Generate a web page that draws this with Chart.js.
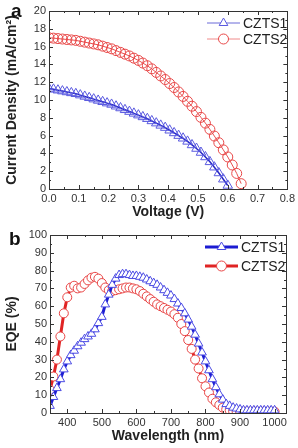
<!DOCTYPE html>
<html>
<head>
<meta charset="utf-8">
<script src="https://cdn.jsdelivr.net/npm/chart.js@4.4.1/dist/chart.umd.min.js"></script>
<style>
  html, body { margin: 0; padding: 0; background: #fff; }
  #wrap { position: relative; width: 298px; height: 448px; }
  canvas { position: absolute; left: 0; }
</style>
</head>
<body>
<div id="wrap">
  <canvas id="jv_chart" width="298" height="224" style="top:0"></canvas>
  <canvas id="eqe_chart" width="298" height="224" style="top:224px"></canvas>
</div>
<script>
// ---- panel a: J-V ----
var voltage = [0, 0.015, 0.03, 0.045, 0.06, 0.075, 0.09, 0.105, 0.12, 0.135, 0.15, 0.165, 0.18, 0.195,
  0.21, 0.225, 0.24, 0.255, 0.27, 0.285, 0.3, 0.315, 0.33, 0.345, 0.36, 0.375, 0.39, 0.405, 0.42, 0.435,
  0.45, 0.465, 0.48, 0.495, 0.51, 0.525, 0.54, 0.555, 0.57, 0.585, 0.6, 0.615, 0.63, 0.645];
var jvCZTS1 = [11.3, 11.2, 11.1, 11.0, 10.9, 10.8, 10.7, 10.55, 10.4, 10.25, 10.1, 9.95, 9.8, 9.65,
  9.5, 9.3, 9.1, 8.9, 8.7, 8.5, 8.3, 8.1, 7.9, 7.65, 7.4, 7.15, 6.9, 6.6, 6.3, 6.0,
  5.7, 5.35, 4.95, 4.55, 4.1, 3.6, 3.05, 2.45, 1.8, 1.1, 0.4];
var jvCZTS2 = [17.0, 16.95, 16.9, 16.85, 16.8, 16.75, 16.7, 16.6, 16.5, 16.4, 16.3, 16.2, 16.05, 15.9,
  15.75, 15.55, 15.35, 15.15, 14.95, 14.7, 14.45, 14.15, 13.85, 13.5, 13.1, 12.7, 12.3, 11.85, 11.4, 10.9,
  10.4, 9.85, 9.3, 8.7, 8.05, 7.4, 6.7, 5.95, 5.2, 4.4, 3.6, 2.7, 1.75, 0.6];
var jvXTicks = [0, 0.1, 0.2, 0.3, 0.4, 0.5, 0.6, 0.7, 0.8];
var jvXLabels = ["0.0", "0.1", "0.2", "0.3", "0.4", "0.5", "0.6", "0.7", "0.8"];
var jvYTicks = [0, 2, 4, 6, 8, 10, 12, 14, 16, 18, 20];

// ---- panel b: EQE ----
var wavelength = [350, 360, 370, 380, 390, 400, 410, 420, 430, 440, 450, 460, 470, 480, 490, 500,
  510, 520, 530, 540, 550, 560, 570, 580, 590, 600, 610, 620, 630, 640, 650, 660, 670, 680, 690, 700,
  710, 720, 730, 740, 750, 760, 770, 780, 790, 800, 810, 820, 830, 840, 850, 860, 870, 880, 890, 900,
  910, 920, 930, 940, 950, 960, 970, 980, 990, 1000];
var eqeCZTS1 = [4, 9, 14, 19, 24.5, 29, 32.5, 35, 37.5, 39.5, 41.5, 43, 44.5, 47, 50.5, 54,
  61, 66.5, 72, 75.5, 77.5, 78, 78, 77.5, 77, 77, 76.5, 76, 75, 74, 73, 72, 70.5, 69, 67.5, 66,
  64, 61.5, 59, 56, 52.5, 48.5, 44, 39, 34, 29, 24, 19, 14.5, 10.5, 7.5, 5, 4, 3, 2.5, 2,
  1.5, 1.5, 1.5, 1.5, 1.5, 1.5, 1.5, 1.5, 1.5, 1.5];
var eqeCZTS2 = [13, 20.5, 30, 43, 56, 65, 70.5, 71.5, 70, 70.5, 72.5, 74.5, 76, 76.5, 75.5, 73,
  70.5, 69, 68.5, 69, 69.5, 70, 70.5, 70.5, 70, 69.5, 68.5, 67, 65.5, 64, 62.5, 61, 60, 59, 58, 57,
  55.5, 53.5, 50, 46, 41, 36, 30, 25, 19.5, 15, 11.5, 8, 6, 4.5, 3, 2, 1.5, 1, 0.8, 0.8,
  0.8, 0.8, 0.8, 0.8, 0.8, 0.8, 0.8, 0.8, 0.8, 0.8];
var eqeXTicks = [400, 500, 600, 700, 800, 900, 1000];
var eqeYTicks = [0, 10, 20, 30, 40, 50, 60, 70, 80, 90, 100];

var FONT = '"Liberation Sans", Arial, sans-serif';

function pairs(xs, ys) {
  return ys.map(function (y, i) { return { x: xs[i], y: y }; });
}

function minorsOf(ticks, min, max) {
  var out = [];
  var step = ticks[1] - ticks[0];
  for (var i = -1; i < ticks.length; i++) {
    var m = (i < 0 ? ticks[0] - step : ticks[i]) + step / 2;
    if (m > min && m < max) out.push(m);
  }
  return out;
}

// frame with inward ticks on all four sides, panel letter and legend
var decorPlugin = {
  id: "decor",
  afterDraw: function (chart, args, opts) {
    var ctx = chart.ctx;
    var a = chart.chartArea;
    var xs = chart.scales.x, ys = chart.scales.y;
    ctx.save();
    ctx.strokeStyle = "#333";
    ctx.lineWidth = 1;
    ctx.strokeRect(Math.round(a.left) + 0.5, Math.round(a.top) + 0.5,
      Math.round(a.right - a.left), Math.round(a.bottom - a.top));

    function xTick(v, len) {
      var px = Math.round(xs.getPixelForValue(v)) + 0.5;
      ctx.beginPath();
      ctx.moveTo(px, a.bottom); ctx.lineTo(px, a.bottom - len);
      ctx.moveTo(px, a.top); ctx.lineTo(px, a.top + len);
      ctx.stroke();
    }
    function yTick(v, len) {
      var py = Math.round(ys.getPixelForValue(v)) + 0.5;
      ctx.beginPath();
      ctx.moveTo(a.left, py); ctx.lineTo(a.left + len, py);
      ctx.moveTo(a.right, py); ctx.lineTo(a.right - len, py);
      ctx.stroke();
    }
    opts.xTicks.forEach(function (v) { xTick(v, 4); });
    minorsOf(opts.xTicks, xs.min, xs.max).forEach(function (v) { xTick(v, 2); });
    opts.yTicks.forEach(function (v) { yTick(v, 4); });
    minorsOf(opts.yTicks, ys.min, ys.max).forEach(function (v) { yTick(v, 2); });

    // panel letter
    ctx.fillStyle = "#111";
    ctx.font = "bold 19px " + FONT;
    ctx.textBaseline = "alphabetic";
    ctx.fillText(opts.letter, opts.letterX, opts.letterY);

    // legend
    var lg = opts.legend;
    chart.data.datasets.forEach(function (ds, i) {
      var y = lg.ys[i];
      ctx.strokeStyle = lg.lineColors[i];
      ctx.lineWidth = lg.lineWidth;
      ctx.beginPath();
      ctx.moveTo(lg.x0, y); ctx.lineTo(lg.x1, y);
      ctx.stroke();
      ctx.fillStyle = "#fff";
      ctx.strokeStyle = ds.pointBorderColor;
      ctx.lineWidth = 1;
      Chart.helpers.drawPoint(ctx, {
        pointStyle: ds.pointStyle, radius: lg.radius, rotation: 0, borderWidth: 1
      }, (lg.x0 + lg.x1) / 2, y);
      ctx.fillStyle = "#222";
      ctx.font = "14px " + FONT;
      ctx.textBaseline = "middle";
      ctx.fillText(ds.label, lg.x1 + 3, y + 1);
    });
    ctx.restore();
  }
};

function axisOpts(min, max, ticks, labels, title, size, titlePad) {
  return {
    type: "linear",
    min: min,
    max: max,
    afterBuildTicks: function (s) {
      s.ticks = ticks.map(function (v) { return { value: v }; });
    },
    ticks: {
      autoSkip: false,
      maxRotation: 0,
      padding: 3,
      color: "#333",
      font: { family: FONT, size: 11 },
      callback: function (v, i) { return labels[i]; }
    },
    grid: { display: false, drawTicks: false },
    border: { display: false },
    title: {
      display: true,
      text: title,
      color: "#222",
      font: { family: FONT, size: 14, weight: "bold" },
      padding: titlePad
    },
    afterFit: function (s) {
      if (s.isHorizontal()) s.height = size; else s.width = size;
    }
  };
}

new Chart(document.getElementById("jv_chart"), {
  type: "line",
  data: {
    datasets: [
      {
        label: "CZTS1",
        data: pairs(voltage, jvCZTS1),
        borderColor: "#2424c4",
        borderWidth: 1.5,
        pointStyle: "triangle",
        pointRadius: 5.5,
        pointBorderColor: "#5a5ae0",
        pointBackgroundColor: "rgba(0,0,0,0)",
        pointBorderWidth: 1,
        tension: 0
      },
      {
        label: "CZTS2",
        data: pairs(voltage, jvCZTS2),
        borderColor: "#e85050",
        borderWidth: 1,
        pointStyle: "circle",
        pointRadius: 5,
        pointBorderColor: "#e84848",
        pointBackgroundColor: "rgba(0,0,0,0)",
        pointBorderWidth: 1,
        tension: 0
      }
    ]
  },
  options: {
    responsive: false,
    animation: false,
    devicePixelRatio: 1,
    layout: { autoPadding: false, padding: { left: 0, top: 11, right: 3, bottom: 0 } },
    plugins: {
      legend: { display: false },
      tooltip: { enabled: false },
      decor: {
        xTicks: jvXTicks, yTicks: jvYTicks,
        letter: "a", letterX: 11, letterY: 17,
        legend: {
          x0: 207, x1: 240, ys: [23, 39], radius: 5,
          lineWidth: 1, lineColors: ["#6a6ad8", "#f08a8a"]
        }
      }
    },
    scales: {
      x: axisOpts(0, 0.8, jvXTicks, jvXLabels, "Voltage (V)", 35, { top: 0, bottom: 3 }),
      y: axisOpts(0, 20, jvYTicks, jvYTicks.map(String), "Current Density (mA/cm\u00B2)", 49, { top: 4, bottom: 0 })
    }
  },
  plugins: [decorPlugin]
});

new Chart(document.getElementById("eqe_chart"), {
  type: "line",
  data: {
    datasets: [
      {
        label: "CZTS1",
        data: pairs(wavelength, eqeCZTS1),
        borderColor: "#1c1cd2",
        borderWidth: 3,
        pointStyle: "triangle",
        pointRadius: 5,
        pointBorderColor: "#4a4ae4",
        pointBackgroundColor: "#fff",
        pointBorderWidth: 1,
        tension: 0
      },
      {
        label: "CZTS2",
        data: pairs(wavelength, eqeCZTS2),
        borderColor: "#e02424",
        borderWidth: 3,
        pointStyle: "circle",
        pointRadius: 4.5,
        pointBorderColor: "#e84444",
        pointBackgroundColor: "#fff",
        pointBorderWidth: 1,
        tension: 0
      }
    ]
  },
  options: {
    responsive: false,
    animation: false,
    devicePixelRatio: 1,
    layout: { autoPadding: false, padding: { left: 0, top: 11, right: 12, bottom: 0 } },
    plugins: {
      legend: { display: false },
      tooltip: { enabled: false },
      decor: {
        xTicks: eqeXTicks, yTicks: eqeYTicks,
        letter: "b", letterX: 9, letterY: 21,
        legend: {
          x0: 205, x1: 238, ys: [23, 42], radius: 5,
          lineWidth: 3, lineColors: ["#1c1cd2", "#e02424"]
        }
      }
    },
    scales: {
      x: axisOpts(350, 1033, eqeXTicks, eqeXTicks.map(String), "Wavelength (nm)", 35, { top: 0, bottom: 3 }),
      y: axisOpts(0, 100, eqeYTicks, eqeYTicks.map(String), "EQE (%)", 50, { top: 4, bottom: 0 })
    }
  },
  plugins: [decorPlugin]
});
</script>
</body>
</html>
